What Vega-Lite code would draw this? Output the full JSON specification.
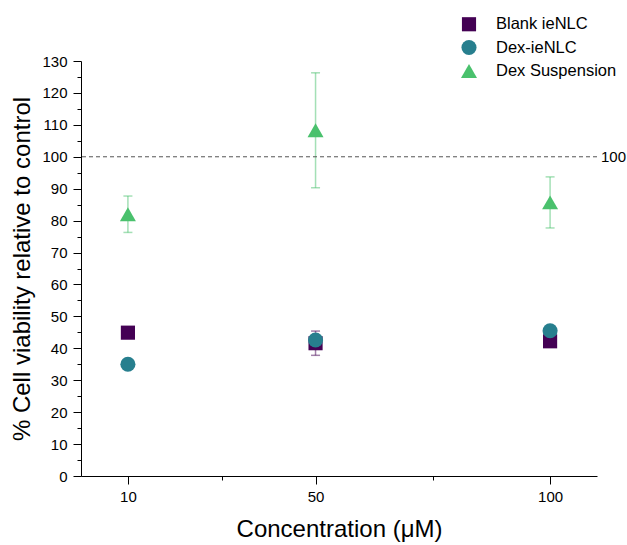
{
  "$schema": "https://vega.github.io/schema/vega-lite/v6.json",
  "width": 516,
  "height": 415,
  "autosize": "none",
  "padding": {"left": 81, "top": 61, "right": 30, "bottom": 69},
  "background": "white",
  "config": {
    "view": {"stroke": null},
    "font": "Liberation Sans",
    "axis": {
      "domainColor": "#000000",
      "tickColor": "#000000",
      "labelColor": "#000000",
      "titleColor": "#000000",
      "labelFont": "Liberation Sans",
      "titleFont": "Liberation Sans",
      "labelFontSize": 15,
      "titleFontSize": 24,
      "titleFontWeight": "normal",
      "grid": false,
      "domainWidth": 1,
      "tickWidth": 1
    },
    "legend": {"labelFont": "Liberation Sans"}
  },
  "datasets": {
    "points": [
      {"conc": 10, "group": "Blank ieNLC", "mean": 44.9, "sd": 1.3},
      {"conc": 50, "group": "Blank ieNLC", "mean": 41.6, "sd": 3.8},
      {"conc": 100, "group": "Blank ieNLC", "mean": 42.2, "sd": 1.0},
      {"conc": 10, "group": "Dex-ieNLC", "mean": 35.0, "sd": 0.8},
      {"conc": 50, "group": "Dex-ieNLC", "mean": 42.6, "sd": 1.0},
      {"conc": 100, "group": "Dex-ieNLC", "mean": 45.5, "sd": 1.0},
      {"conc": 10, "group": "Dex Suspension", "mean": 82.0, "sd": 5.7},
      {"conc": 50, "group": "Dex Suspension", "mean": 108.3, "sd": 18.0},
      {"conc": 100, "group": "Dex Suspension", "mean": 85.7, "sd": 8.0}
    ],
    "ref": [{"value": 100, "pos": 110, "label": "100"}]
  },
  "resolve": {
    "axis": {"x": "independent", "y": "independent"},
    "legend": {"color": "independent", "shape": "independent", "size": "independent"}
  },
  "layer": [
    {
      "data": {"name": "points"},
      "mark": {"type": "errorbar", "opacity": 0.5, "thickness": 1.5, "ticks": {"size": 9, "thickness": 1.5}},
      "encoding": {
        "x": {"field": "conc", "type": "quantitative",
              "scale": {"domain": [0, 110], "nice": false, "zero": false},
              "axis": {"orient": "bottom", "values": [30, 75], "labels": false, "domain": false, "tickSize": 4, "title": null}},
        "y": {"field": "mean", "type": "quantitative",
              "scale": {"domain": [0, 130], "nice": false},
              "axis": {"orient": "left", "values": [5, 15, 25, 35, 45, 55, 65, 75, 85, 95, 105, 115, 125], "labels": false, "domain": false, "tickSize": 4, "title": null}},
        "yError": {"field": "sd"},
        "color": {"field": "group", "type": "nominal",
                  "scale": {"domain": ["Blank ieNLC", "Dex-ieNLC", "Dex Suspension"], "range": ["#440154", "#277f8e", "#4ac16d"]},
                  "legend": null}
      }
    },
    {
      "data": {"name": "ref"},
      "mark": {"type": "rule", "strokeDash": [4, 3], "color": "#555555", "strokeWidth": 1},
      "encoding": {
        "y": {"field": "value", "type": "quantitative", "axis": null}
      }
    },
    {
      "data": {"name": "ref"},
      "mark": {"type": "text", "align": "left", "baseline": "middle", "dx": 4, "fontSize": 15, "color": "#000000"},
      "encoding": {
        "x": {"field": "pos", "type": "quantitative", "axis": null},
        "y": {"field": "value", "type": "quantitative", "axis": null},
        "text": {"field": "label"}
      }
    },
    {
      "data": {"name": "points"},
      "mark": {"type": "point", "filled": true, "opacity": 1},
      "encoding": {
        "x": {"field": "conc", "type": "quantitative",
              "axis": {"orient": "bottom", "values": [10, 50, 100], "tickSize": 8, "labelPadding": 5, "title": "Concentration (μM)", "titlePadding": 13}},
        "y": {"field": "mean", "type": "quantitative",
              "axis": {"orient": "left", "values": [0, 10, 20, 30, 40, 50, 60, 70, 80, 90, 100, 110, 120, 130], "tickSize": 8, "labelPadding": 6, "title": "% Cell viability relative to control", "titlePadding": 7}},
        "color": {"field": "group", "type": "nominal",
                  "legend": {"title": null, "orient": "none", "legendX": 379, "legendY": -45, "labelFontSize": 16.5, "labelColor": "#000000", "symbolSize": 260, "labelOffset": 18, "rowPadding": 6, "padding": 0}},
        "shape": {"field": "group", "type": "nominal",
                  "scale": {"domain": ["Blank ieNLC", "Dex-ieNLC", "Dex Suspension"], "range": ["square", "circle", "triangle-up"]}},
        "size": {"field": "group", "type": "nominal",
                 "scale": {"domain": ["Blank ieNLC", "Dex-ieNLC", "Dex Suspension"], "range": [200, 256, 324]},
                 "legend": null}
      }
    }
  ]
}
